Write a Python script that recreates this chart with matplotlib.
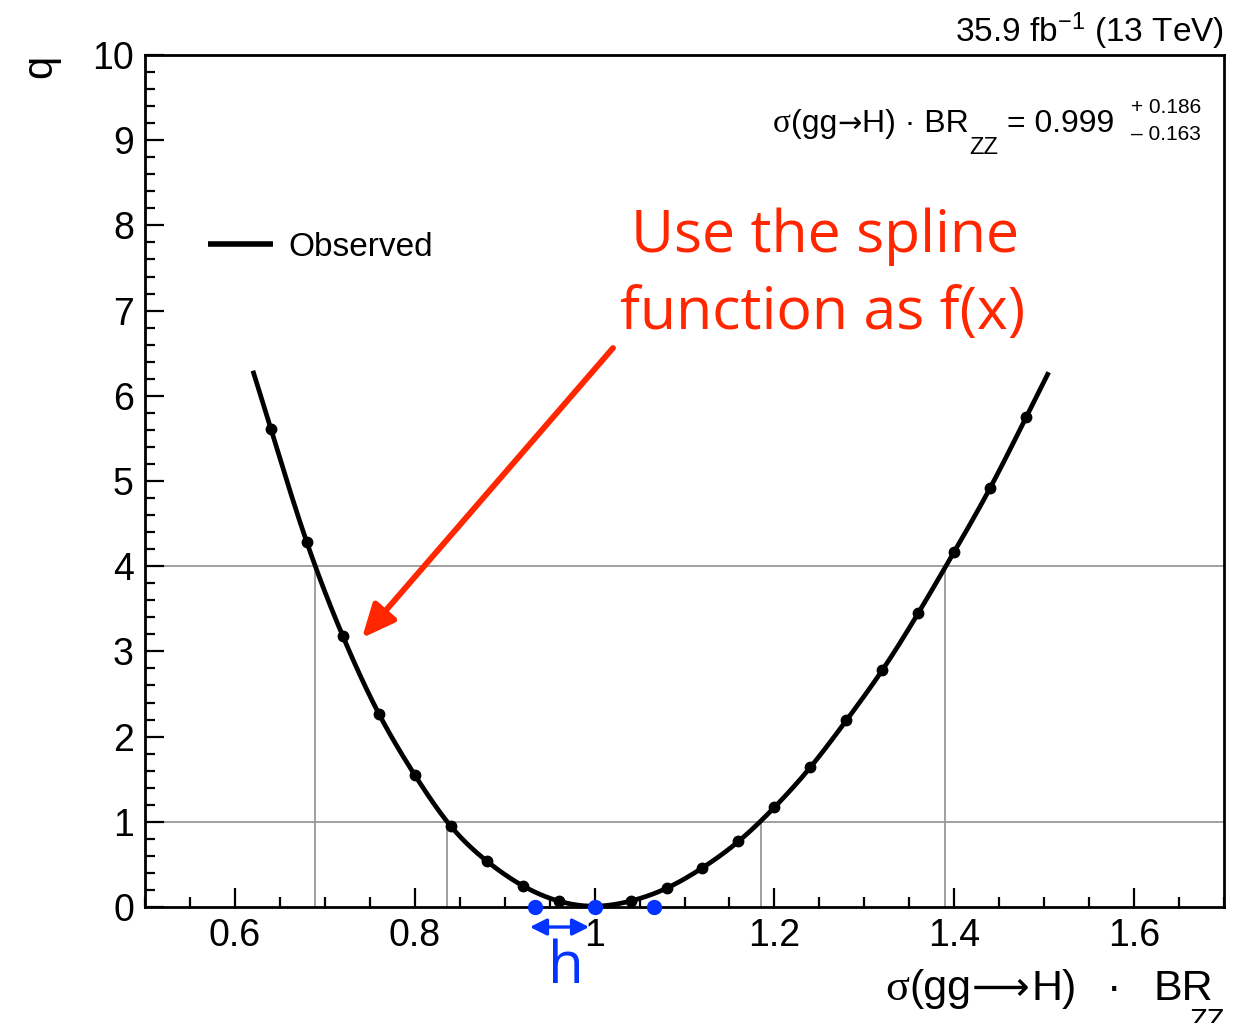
import numpy as np
import matplotlib
matplotlib.use("Agg")
import matplotlib.pyplot as plt
from matplotlib.ticker import MultipleLocator, FuncFormatter
from matplotlib.transforms import IdentityTransform
from matplotlib.patches import FancyArrowPatch

plt.rcParams['font.family'] = ['Liberation Sans', 'DejaVu Sans']
plt.rcParams['mathtext.fontset'] = 'custom'
plt.rcParams['mathtext.rm'] = 'Liberation Sans'
plt.rcParams['mathtext.default'] = 'regular'

# ---------------- data ----------------
x_scan = [0.64, 0.68, 0.72, 0.76, 0.80, 0.84, 0.88, 0.92, 0.96, 1.00, 1.04,
          1.08, 1.12, 1.16, 1.20, 1.24, 1.28, 1.32, 1.36, 1.40, 1.44, 1.48]
q_scan = [5.61, 4.28, 3.18, 2.27, 1.55, 0.95, 0.54, 0.25, 0.07, 0.01, 0.07,
          0.22, 0.46, 0.77, 1.17, 1.64, 2.19, 2.78, 3.45, 4.17, 4.92, 5.75]
curve_range = [0.62, 1.505]
x_cross_1sigma = [0.836, 1.185]
x_cross_2sigma = [0.689, 1.390]
q_levels = [1, 4]
x_blue = [0.934, 1.0, 1.066]
best_fit = "0.999"
err_up = "+ 0.186"
err_dn = "\u2013 0.163"
lumi_text = "35.9 fb$^{-1}$ (13 TeV)"

RED = "#FF2600"
BLUE = "#0433FF"
GRAY = "#999999"

# natural cubic spline (drawn through the scan points)
def natural_spline(x, y, t):
    x = np.asarray(x, float); y = np.asarray(y, float); t = np.asarray(t, float)
    n = len(x); h = np.diff(x)
    A = np.zeros((n, n)); b = np.zeros(n)
    A[0, 0] = 1; A[-1, -1] = 1
    for i in range(1, n - 1):
        A[i, i - 1] = h[i - 1]; A[i, i] = 2 * (h[i - 1] + h[i]); A[i, i + 1] = h[i]
        b[i] = 6 * ((y[i + 1] - y[i]) / h[i] - (y[i] - y[i - 1]) / h[i - 1])
    M = np.linalg.solve(A, b)
    idx = np.clip(np.searchsorted(x, t) - 1, 0, n - 2)
    x0 = x[idx]; x1 = x[idx + 1]; hh = x1 - x0
    return (M[idx] * (x1 - t) ** 3 / (6 * hh) + M[idx + 1] * (t - x0) ** 3 / (6 * hh)
            + (y[idx] / hh - M[idx] * hh / 6) * (x1 - t)
            + (y[idx + 1] / hh - M[idx + 1] * hh / 6) * (t - x0))

W, H = 1249, 1023
fig = plt.figure(figsize=(W / 100, H / 100), dpi=100)
ax = fig.add_axes([145 / W, 1 - 907 / H, (1224 - 145) / W, (907 - 55) / H])
ax.set_xlim(0.5, 1.7)
ax.set_ylim(0, 10)

# reference lines
for lv in q_levels:
    ax.axhline(lv, color=GRAY, lw=1.3, zorder=1)
ax.vlines(x_cross_1sigma, 0, q_levels[0], color=GRAY, lw=1.3, zorder=1)
ax.vlines(x_cross_2sigma, 0, q_levels[1], color=GRAY, lw=1.3, zorder=1)

t = np.linspace(curve_range[0], curve_range[1], 600)
ax.plot(t, natural_spline(x_scan, q_scan, t), color='black', lw=3.4, zorder=3,
        label='Observed', solid_capstyle='butt')
ax.plot(x_scan, q_scan, 'o', color='black', ms=7.5, zorder=4)

ax.plot(x_blue, [0] * len(x_blue), 'o', color=BLUE, ms=10, zorder=6, clip_on=False)

# axes style
for s in ax.spines.values():
    s.set_linewidth(2)
ax.xaxis.set_major_locator(MultipleLocator(0.2))
ax.xaxis.set_minor_locator(MultipleLocator(0.05))
ax.yaxis.set_major_locator(MultipleLocator(1))
ax.yaxis.set_minor_locator(MultipleLocator(0.2))
ax.xaxis.set_major_formatter(FuncFormatter(lambda v, p: ("%.1f" % v).rstrip('0').rstrip('.')))
ax.yaxis.set_major_formatter(FuncFormatter(lambda v, p: "%d" % round(v)))
ax.tick_params(which='both', direction='in', top=False, right=False, width=1.6)
ax.tick_params(which='major', length=14, labelsize=27)
ax.tick_params(which='minor', length=7)
ax.tick_params(axis='x', which='major', pad=8)
ax.tick_params(axis='y', which='major', pad=8)

# legend
leg = ax.legend(loc='center left', bbox_to_anchor=(208 / W, 1 - 247 / H),
                bbox_transform=fig.transFigure, frameon=False, fontsize=24,
                handlelength=1.95, handletextpad=0.45, borderpad=0, borderaxespad=0)
leg.get_lines()[0].set_linewidth(4)

# helper: place text pieces left to right in pixel coordinates
renderer = fig.canvas.get_renderer()
def seq(x0, pieces):
    x = x0
    for txt, base, size, fam, gap in pieces:
        tt = fig.text(x + gap, H - base, txt, fontsize=size, family=fam,
                      transform=IdentityTransform(), ha='left', va='baseline')
        bb = tt.get_window_extent(renderer)
        x = bb.x1
    return x

SANS = ['Liberation Sans', 'DejaVu Sans']
SERIF = ['Liberation Serif', 'DejaVu Serif']
ARROWF = ['DejaVu Sans']

# lumi label
fig.text(1224, H - 42, lumi_text, fontsize=24, ha='right', va='baseline',
         transform=IdentityTransform())

# annotation of fit result
seq(773, [("\u03c3", 132, 24, SERIF, 0),
          ("(gg", 132, 23, SANS, 0),
          ("\u2192", 132, 21, ARROWF, 0),
          ("H) \u00b7 BR", 132, 23, SANS, 0),
          ("ZZ", 154, 17, SANS, 1),
          ("= " + best_fit, 132, 23, SANS, 9)])
fig.text(1131, H - 113, err_up, fontsize=15, ha='left', va='baseline',
         transform=IdentityTransform())
fig.text(1131, H - 140, err_dn, fontsize=15, ha='left', va='baseline',
         transform=IdentityTransform())

# axis titles
seq(885, [("\u03c3", 1000, 32, SERIF, 0),
          ("(gg", 1000, 31, SANS, 0),
          ("\u27f6", 1000, 29, ARROWF, 1),
          ("H)", 1000, 31, SANS, 2),
          ("\u00b7", 1000, 31, SANS, 30),
          ("BR", 1000, 31, SANS, 32),
          ("ZZ", 1029, 21, SANS, -24)])
fig.text(40, H - 55, "q", fontsize=30, rotation=90, ha='center', va='top',
         transform=IdentityTransform())

# red annotation
RFONT = ['Open Sans', 'DejaVu Sans']
fig.text(825, H - 252, "Use the spline", fontsize=42.5, color=RED, family=RFONT,
         ha='center', va='baseline', transform=IdentityTransform())
fig.text(823, H - 329, "function as f(x)", fontsize=42.5, color=RED, family=RFONT,
         ha='center', va='baseline', transform=IdentityTransform())
arr = FancyArrowPatch((613, H - 348), (362, H - 638), transform=IdentityTransform(),
                      arrowstyle='-|>,head_length=1.0,head_width=0.45',
                      mutation_scale=20, color=RED, lw=4.2, shrinkA=0, shrinkB=0)
fig.patches.append(arr)

# blue h marker
ax.annotate('', xy=(x_blue[1] - 0.006, -0.0235), xytext=(x_blue[0] - 0.006, -0.0235),
            xycoords=ax.get_xaxis_transform(), textcoords=ax.get_xaxis_transform(),
            arrowprops=dict(arrowstyle='<|-|>,head_length=1.0,head_width=0.5',
                            mutation_scale=10, color=BLUE, lw=2.4, shrinkA=0, shrinkB=0),
            annotation_clip=False, zorder=7)
fig.text(566, H - 983, "h", fontsize=42, color=BLUE, family=RFONT,
         ha='center', va='baseline', transform=IdentityTransform())

fig.savefig("out.png", dpi=100)
